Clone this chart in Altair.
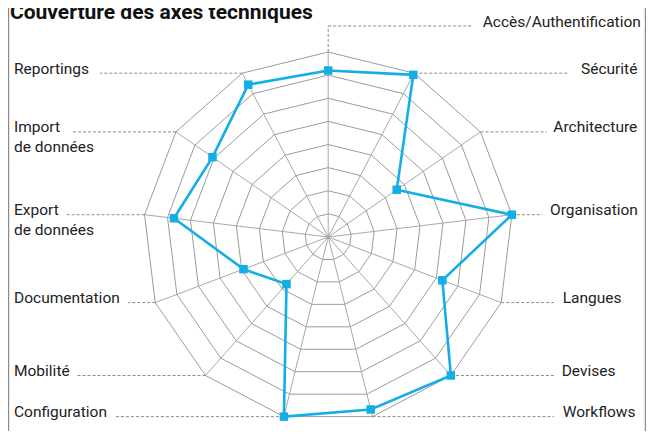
import math
import altair as alt
import pandas as pd

# ---------------- data ----------------
axes = ["Accès/Authentification", "Sécurité", "Architecture", "Organisation",
        "Langues", "Devises", "Workflows", "Configuration", "Mobilité",
        "Documentation", "Export\nde données", "Import\nde données", "Reportings"]
values = [90, 99, 45, 100, 66, 100, 96, 100, 34, 49, 84, 76, 93]
ring_levels = [12.5, 25, 37.5, 50, 62.5, 75, 87.5, 100]
title_text = "Couverture des axes techniques"

# ---------------- layout (svg pixels) ----------------
W, H = 638, 423
CX, CY = 320.2, 229.0     # centre of the radar
PPU = 1.85                # pixels per unit (100 -> 185 px)
label_x_px = [474.7, 573, 545.3, 542, 554.7, 553.7, 554.7, 6, 6, 6, 6, 6, 6]
leader_end_px = [465, 560.3, 538.7, 534.7, 546, 546, 546, 107, 68.7, 120, 58.7, 63.7, 92]
top_leader_y_px = 18

def ux(px):
    return (px - CX) / PPU

def uy(py):
    return (CY - py) / PPU

n = len(axes)
theta = [2 * math.pi * i / n for i in range(n)]
vx = lambda v, i: v * math.sin(theta[i])
vy = lambda v, i: v * math.cos(theta[i])
outer = max(ring_levels)

rings = pd.DataFrame([
    {"ring": r, "k": k, "x": vx(r, k % n), "y": vy(r, k % n)}
    for r in ring_levels for k in range(n + 1)
])
spokes = pd.DataFrame([
    {"x": 0.0, "y": 0.0, "x2": vx(outer, i), "y2": vy(outer, i)} for i in range(n)
])
series = pd.DataFrame([
    {"k": k, "axe": axes[k % n], "v": values[k % n],
     "x": vx(values[k % n], k % n), "y": vy(values[k % n], k % n)}
    for k in range(n + 1)
])
pts = series.iloc[:n]

lead_rows = []
lab_rows = []
for i in range(n):
    x0, y0 = vx(outer, i), vy(outer, i)
    if i == 0:
        yt = uy(top_leader_y_px)
        lead_rows.append({"x": x0, "y": y0, "x2": x0, "y2": yt})
        lead_rows.append({"x": x0, "y": yt, "x2": ux(leader_end_px[i]), "y2": yt})
        lab_rows.append({"t": axes[i], "x": ux(label_x_px[i]), "y": yt})
    else:
        lead_rows.append({"x": x0, "y": y0, "x2": ux(leader_end_px[i]), "y2": y0})
        lab_rows.append({"t": axes[i], "x": ux(label_x_px[i]), "y": y0})
leaders = pd.DataFrame(lead_rows)
labels = pd.DataFrame(lab_rows)

xs = alt.Scale(domain=[ux(0), ux(W)], nice=False, zero=False)
ys = alt.Scale(domain=[uy(H), uy(0)], nice=False, zero=False)
X = lambda f: alt.X(f, type="quantitative", scale=xs, axis=None)
Y = lambda f: alt.Y(f, type="quantitative", scale=ys, axis=None)

ring_layer = alt.Chart(rings).mark_line(color="#9c9c9c", strokeWidth=1).encode(
    x=X("x"), y=Y("y"), detail="ring:N", order=alt.Order("k:Q"))

spoke_layer = alt.Chart(spokes).mark_rule(color="#a8a8a8", strokeWidth=1).encode(
    x=X("x"), y=Y("y"), x2="x2", y2="y2")

leader_layer = alt.Chart(leaders).mark_rule(
    color="#8c8c8c", strokeWidth=1, strokeDash=[3, 2]).encode(
    x=X("x"), y=Y("y"), x2="x2", y2="y2")

line_layer = alt.Chart(series).mark_line(color="#14ade4", strokeWidth=2.6).encode(
    x=X("x"), y=Y("y"), order=alt.Order("k:Q"))

point_layer = alt.Chart(pts).mark_square(color="#14ade4", size=72, opacity=1).encode(
    x=X("x"), y=Y("y"))

label_layer = alt.Chart(labels).mark_text(
    align="left", baseline="alphabetic", font="Roboto", fontSize=15.5,
    color="#222222", lineBreak="\n", lineHeight=20, dy=0.5).encode(
    x=X("x"), y=Y("y"), text="t:N")

one = pd.DataFrame({"t": [title_text]})
title_layer = alt.Chart(one).mark_text(
    align="left", baseline="alphabetic", font="Roboto", fontSize=21,
    fontWeight="bold", color="#111111").encode(
    x=alt.value(2), y=alt.value(11), text="t:N")

border_l = alt.Chart(one).mark_rule(color="#8a8a8a", strokeWidth=1.2).encode(
    x=alt.value(0.6), y=alt.value(0), y2=alt.value(H))
border_r = alt.Chart(one).mark_rule(color="#8a8a8a", strokeWidth=1.2).encode(
    x=alt.value(W - 0.6), y=alt.value(0), y2=alt.value(H))

chart = alt.layer(
    ring_layer, spoke_layer, leader_layer, line_layer, point_layer,
    label_layer, title_layer, border_l, border_r
).properties(
    width=W, height=H, padding=0,
    autosize=alt.AutoSizeParams(type="none")
).configure_view(strokeWidth=0)

chart.save("out.html", embed_options={"renderer": "svg", "actions": False})
